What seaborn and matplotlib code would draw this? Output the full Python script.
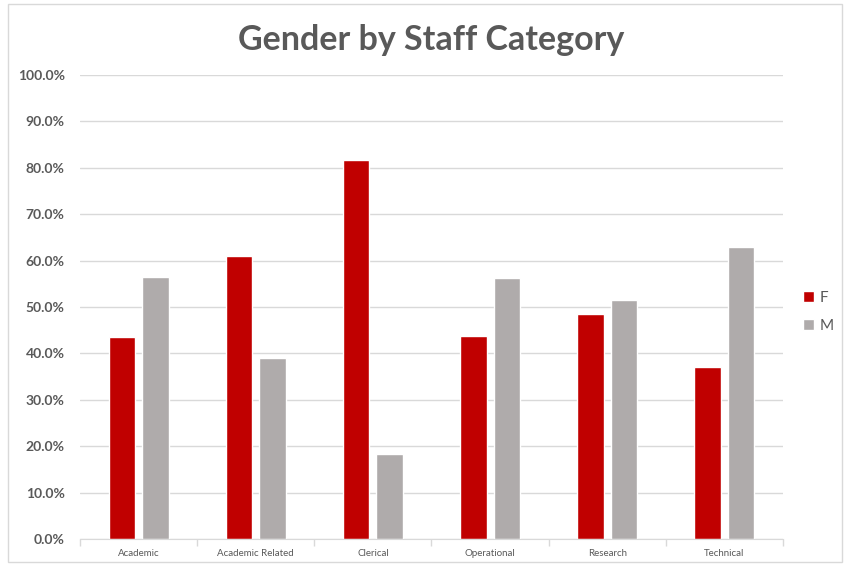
import numpy as np
import pandas as pd
import matplotlib
matplotlib.use('Agg')
import matplotlib.pyplot as plt
from matplotlib.ticker import PercentFormatter, FixedLocator
from matplotlib.patches import Rectangle
import seaborn as sns

# data
categories = ['Academic', 'Academic Related', 'Clerical', 'Operational', 'Research', 'Technical']
female = [0.436, 0.609, 0.816, 0.438, 0.485, 0.370]
male = [0.564, 0.391, 0.184, 0.562, 0.515, 0.630]
genders = ['F', 'M']

df = pd.DataFrame({
    'Category': categories * 2,
    'Gender': ['F'] * len(categories) + ['M'] * len(categories),
    'Share': female + male,
})

sns.set_style('white')
plt.rcParams['font.family'] = ['Lato', 'DejaVu Sans']

grey_text = '#595959'
fig = plt.figure(figsize=(8.52, 5.65), dpi=100)
ax = fig.add_axes([80 / 852, 1 - 539 / 565, 703 / 852, 464 / 565])

sns.barplot(data=df, x='Category', y='Share', hue='Gender', hue_order=genders,
            palette={'F': '#C00000', 'M': '#AFABAB'}, width=0.573, gap=0.21,
            saturation=1, ax=ax)

ax.set_ylim(0, 1)
ax.set_xlim(-0.5, len(categories) - 0.5)
ax.yaxis.set_major_locator(FixedLocator(np.arange(0, 1.01, 0.1)))
ax.yaxis.set_major_formatter(PercentFormatter(1.0, decimals=1))
ax.grid(axis='y', color='#D9D9D9', linewidth=1)
ax.set_axisbelow(True)
for s in ['top', 'right', 'left']:
    ax.spines[s].set_visible(False)
ax.spines['bottom'].set_color('#D9D9D9')
ax.set_xlabel('')
ax.set_ylabel('')

# y labels
for lab in ax.get_yticklabels():
    lab.set_fontweight('bold')
    lab.set_color(grey_text)
    lab.set_fontsize(10)
ax.tick_params(axis='y', length=0, pad=11)

# x labels, tick marks sit on the category boundaries
ax.tick_params(axis='x', which='major', length=0, pad=7, labelsize=7, labelcolor=grey_text)
ax.xaxis.set_minor_locator(FixedLocator(np.arange(-0.5, len(categories), 1.0)))
ax.tick_params(axis='x', which='minor', length=5, color='#D9D9D9', width=1, bottom=True)

ax.set_title('Gender by Staff Category', fontsize=24.5, fontweight='bold', color=grey_text, pad=18)

leg = ax.legend(loc='center left', bbox_to_anchor=(1.0, 0.49), frameon=False,
                fontsize=11, handlelength=0.7, handleheight=0.7, handletextpad=0.4,
                labelspacing=0.9, borderaxespad=0.9)
for t in leg.get_texts():
    t.set_color(grey_text)

# outer chart border
fig.patches.append(Rectangle((8 / 852, 3 / 565), 834 / 852, 558 / 565, transform=fig.transFigure,
                             fill=False, edgecolor='#D9D9D9', linewidth=1))

plt.savefig('out.png', dpi=100)
